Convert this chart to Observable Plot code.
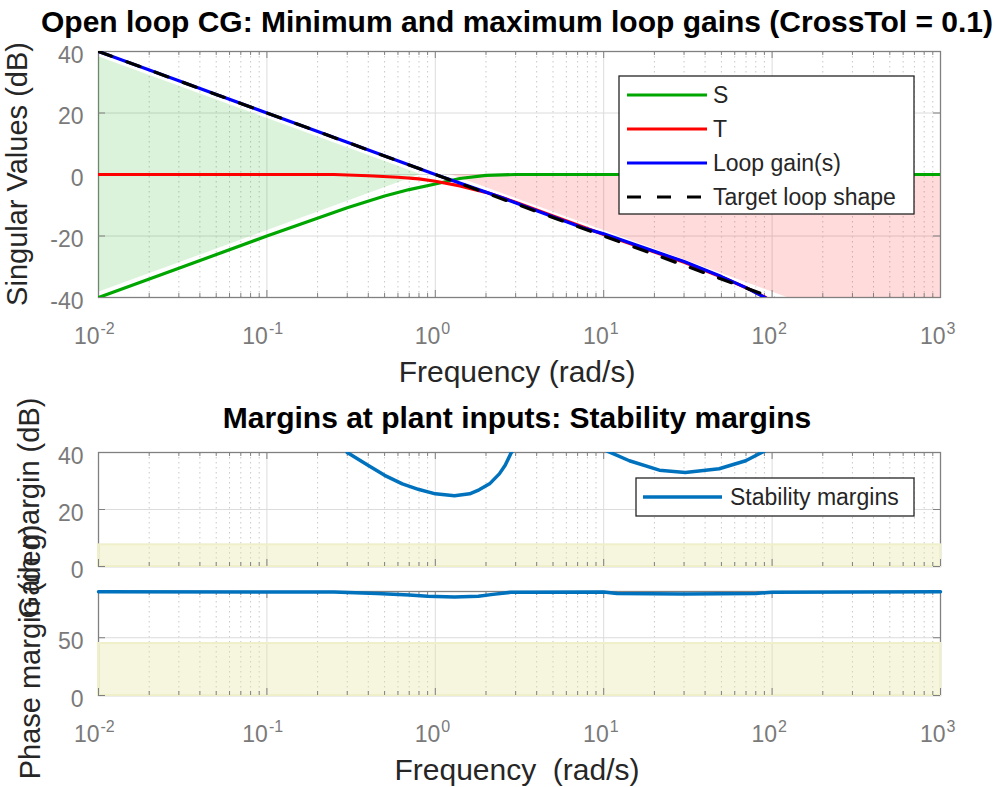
<!DOCTYPE html>
<html><head><meta charset="utf-8">
<script src="https://cdn.jsdelivr.net/npm/d3@7"></script>
<script src="https://cdn.jsdelivr.net/npm/@observablehq/plot@0.6"></script>
<style>
body{margin:0;background:#fff;}
#wrap{position:relative;width:997px;height:787px;overflow:hidden;background:#fff;}
#wrap > svg{position:absolute;left:0;}
</style></head><body><div id="wrap"></div>
<script>
const FONT = '"Liberation Sans", Arial, Helvetica, sans-serif';

// ---------- x ticks ----------
const xTickValues = [0.01, 0.1, 1, 10, 100, 1000];
const xTickExponents = ["-2", "-1", "0", "1", "2", "3"];

// ---------- top panel: singular values (dB) ----------
const svYTicks = [-40, -20, 0, 20, 40];

const sFreq = [0.01, 0.03, 0.1, 0.3, 0.5, 0.7, 1.0, 1.4, 2.0, 3.0, 10, 100, 1000];
const sDb   = [-40, -30.5, -20, -10.8, -7.0, -4.9, -3.1, -1.3, -0.3, 0, 0, 0, 0];

const tFreq = [0.01, 0.1, 0.25, 0.4, 0.6, 0.8, 1.0, 1.4, 2.0, 3.0, 5.0, 10, 20, 30, 50, 70, 90, 100];
const tDb   = [0, 0, 0, -0.4, -0.9, -1.4, -2.2, -3.7, -5.8, -9.0, -13.5, -19.5, -25.2, -28.5, -33.3, -36.8, -39.8, -41.3];

const loopFreq = [0.01, 0.03, 0.1, 0.3, 1.0, 2.5, 4.0, 7.5, 10, 20, 30, 50, 70, 90, 100];
const loopDb   = [40, 30.5, 20, 10.5, 0, -7.6, -11.8, -17.3, -19.3, -25.0, -28.3, -33.2, -36.8, -39.9, -41.5];

const targetFreq = [0.01, 0.1, 1, 10, 100, 120];
const targetDb   = [40, 20, 0, -20, -40, -41.6];

const minGainFreq  = [0.01, 0.82];
const minGainUpper = [38.3, 0];
const minGainLower = [-38.3, 0];

const maxGainFreq  = [1.23, 123, 1000];
const maxGainUpper = [0, 0, 0];
const maxGainLower = [0, -40, -40];

// ---------- gain margin panel (dB) ----------
const gmYTicks = [0, 20, 40];
const gm1Freq = [0.3, 0.405, 0.5, 0.637, 0.8, 1.0, 1.3, 1.6, 1.82, 2.1, 2.4, 2.6, 2.8, 2.9];
const gm1Db   = [40, 35.3, 32, 29.0, 27, 25.5, 24.8, 25.5, 26.9, 29, 32.5, 35.5, 39.5, 41];
const gm2Freq = [10.5, 14.2, 21.4, 30.5, 48.5, 69.7, 90];
const gm2Db   = [40.5, 37.1, 33.8, 33.0, 34.3, 37.1, 40.5];
const gmRequired = [7.6];

// ---------- phase margin panel (deg) ----------
const pmYTicks = [0, 50];
const pmFreq = [0.01, 0.25, 0.45, 0.7, 0.9, 1.3, 1.8, 2.2, 2.8, 10, 12, 30, 80, 100, 1000];
const pmDeg  = [89.7, 89.5, 88.3, 87, 85.8, 85.3, 85.8, 87.5, 89.3, 89.5, 88.3, 87.9, 88.3, 89.4, 89.7];
const pmRequired = [45];

// ---------- build tables ----------
const zip = (xs, ys) => xs.map((f, i) => ({f, v: ys[i]}));
const sData = zip(sFreq, sDb), tData = zip(tFreq, tDb), lData = zip(loopFreq, loopDb), tgData = zip(targetFreq, targetDb);
const greenWedge = minGainFreq.map((f, i) => ({f, lo: minGainLower[i], hi: minGainUpper[i]}));
const redWedge = maxGainFreq.map((f, i) => ({f, lo: maxGainLower[i], hi: maxGainUpper[i]}));
const gm1 = zip(gm1Freq, gm1Db), gm2 = zip(gm2Freq, gm2Db), pm = zip(pmFreq, pmDeg);
const xTicks = xTickValues.map((v, i) => ({v, e: xTickExponents[i]}));

const W = 997, ML = 98, MR = 57;
const axisColor = "#808080", tickColor = "#7a7a7a";
const minors = [];
for (let k = -2; k <= 2; k++) for (let m = 2; m <= 9; m++) minors.push(m * Math.pow(10, k));

function panel({top, height, mt, mb, yDomain, yTicks, under, over, xLabels}) {
  const fw = W - ML - MR, fh = height - mt - mb;
  const marks = [
    Plot.ruleX(minors, {x: d => d, stroke: "#c8c8c8", strokeDasharray: "1.5,3.5", strokeWidth: 1}),
    Plot.ruleX(xTickValues.slice(1, -1), {x: d => d, stroke: "#dcdcdc", strokeWidth: 1}),
    Plot.ruleY(yTicks.filter(v => v > yDomain[0] && v < yDomain[1]), {y: d => d, stroke: "#dcdcdc", strokeWidth: 1}),
    Plot.frame({stroke: axisColor, strokeWidth: 1.3}),
    ...under,
    Plot.ruleX(xTickValues, {x: d => d, insetTop: fh - 7, stroke: axisColor}),
    Plot.ruleX(xTickValues, {x: d => d, insetBottom: fh - 7, stroke: axisColor}),
    Plot.ruleX(minors, {x: d => d, insetTop: fh - 4, stroke: axisColor}),
    Plot.ruleX(minors, {x: d => d, insetBottom: fh - 4, stroke: axisColor}),
    Plot.ruleY(yTicks, {y: d => d, insetRight: fw - 7, stroke: axisColor}),
    Plot.ruleY(yTicks, {y: d => d, insetLeft: fw - 7, stroke: axisColor}),
    Plot.text(yTicks, {y: d => d, text: d => String(d), frameAnchor: "left", textAnchor: "end", dx: -15, dy: 4, fontSize: 23, fill: tickColor}),
    ...over
  ];
  if (xLabels) {
    marks.push(
      Plot.text(xTicks.filter(d => d.v < 1), {x: "v", text: () => "10", frameAnchor: "bottom", textAnchor: "end", lineAnchor: "bottom", dx: 1, dy: 46, fontSize: 23, fill: tickColor}),
      Plot.text(xTicks.filter(d => d.v >= 1), {x: "v", text: () => "10", frameAnchor: "bottom", textAnchor: "end", lineAnchor: "bottom", dx: 5, dy: 46, fontSize: 23, fill: tickColor}),
      Plot.text(xTicks.filter(d => d.v < 1), {x: "v", text: "e", frameAnchor: "bottom", textAnchor: "start", lineAnchor: "bottom", dx: 2, dy: 36, fontSize: 16, fill: tickColor}),
      Plot.text(xTicks.filter(d => d.v >= 1), {x: "v", text: "e", frameAnchor: "bottom", textAnchor: "start", lineAnchor: "bottom", dx: 6, dy: 36, fontSize: 16, fill: tickColor})
    );
  }
  const svg = Plot.plot({
    width: W, height, marginLeft: ML, marginRight: MR, marginTop: mt, marginBottom: mb,
    style: {background: "transparent", overflow: "visible", fontFamily: FONT},
    x: {type: "log", domain: [0.01, 1000], axis: null},
    y: {domain: yDomain, axis: null},
    marks
  });
  svg.style.top = top + "px";
  return svg;
}

const wrap = document.getElementById("wrap");
const lineOpts = {strokeWidth: 3.2, strokeLinejoin: "round", clip: true};

wrap.appendChild(panel({
  top: 0, height: 400, mt: 51, mb: 103, yDomain: [-40, 40], yTicks: svYTicks, xLabels: true,
  under: [
    Plot.areaY(greenWedge, {x: "f", y1: "lo", y2: "hi", fill: "#00aa00", fillOpacity: 0.14}),
    Plot.areaY(redWedge, {x: "f", y1: "lo", y2: "hi", fill: "#ff0000", fillOpacity: 0.14})
  ],
  over: [
    Plot.line(sData, {x: "f", y: "v", stroke: "#00a600", ...lineOpts}),
    Plot.line(tData, {x: "f", y: "v", stroke: "#ff0000", ...lineOpts}),
    Plot.line(lData, {x: "f", y: "v", stroke: "#0000ff", ...lineOpts}),
    Plot.line(tgData, {x: "f", y: "v", stroke: "#000000", strokeDasharray: "14,16", ...lineOpts})
  ]
}));

wrap.appendChild(panel({
  top: 400, height: 180, mt: 52, mb: 14, yDomain: [0, 40], yTicks: gmYTicks, xLabels: false,
  under: [
    Plot.rect(gmRequired, {y1: 0, y2: d => d, fill: "#e6e6a0", fillOpacity: 0.35, stroke: "#efefca", strokeWidth: 2})
  ],
  over: [
    Plot.line(gm1, {x: "f", y: "v", stroke: "#0072BD", strokeWidth: 3.5, clip: true}),
    Plot.line(gm2, {x: "f", y: "v", stroke: "#0072BD", strokeWidth: 3.5, clip: true})
  ]
}));

wrap.appendChild(panel({
  top: 580, height: 207, mt: 11, mb: 92, yDomain: [0, 90], yTicks: pmYTicks, xLabels: true,
  under: [
    Plot.rect(pmRequired, {y1: 0, y2: d => d, fill: "#e6e6a0", fillOpacity: 0.35, stroke: "#efefca", strokeWidth: 2})
  ],
  over: [
    Plot.line(pm, {x: "f", y: "v", stroke: "#0072BD", strokeWidth: 3.5})
  ]
}));

// ---------- overlay: titles, axis labels, legends ----------
const ov = d3.select(wrap).append("svg")
  .attr("width", W).attr("height", 787)
  .style("position", "absolute").style("top", "0px").style("left", "0px")
  .style("font-family", FONT);

function txt(x, y, s, size, opts = {}) {
  const t = ov.append("text").attr("x", x).attr("y", y).text(s)
    .attr("font-size", size).attr("fill", opts.fill || "#262626")
    .attr("text-anchor", opts.anchor || "middle")
    .style("white-space", "pre");
  if (opts.bold) t.attr("font-weight", "bold");
  if (opts.rotate) t.attr("transform", `rotate(-90 ${x} ${y})`);
  return t;
}
txt(517, 32, "Open loop CG: Minimum and maximum loop gains (CrossTol = 0.1)", 30, {bold: true, fill: "#000"});
txt(517, 382, "Frequency (rad/s)", 30);
txt(27, 174, "Singular Values (dB)", 29, {rotate: true});
txt(517, 428, "Margins at plant inputs: Stability margins", 30, {bold: true, fill: "#000"});
txt(39, 508, "Gain margin (dB)", 29, {rotate: true});
txt(40, 652, "Phase margin (deg)", 29, {rotate: true});
txt(517, 780, "Frequency  (rad/s)", 30);

// legend 1
const leg1Names = ["S", "T", "Loop gain(s)", "Target loop shape"];
const leg1Colors = ["#00a600", "#ff0000", "#0000ff", "#000000"];
const leg1Dash = [null, null, null, "14,16"];
ov.append("rect").attr("x", 619).attr("y", 76).attr("width", 295).attr("height", 138)
  .attr("fill", "#fff").attr("stroke", "#262626").attr("stroke-width", 1.3);
leg1Names.forEach((n, i) => {
  const y = 95 + i * 34;
  const l = ov.append("line").attr("x1", 627).attr("x2", 707).attr("y1", y).attr("y2", y)
    .attr("stroke", leg1Colors[i]).attr("stroke-width", 3.2);
  if (leg1Dash[i]) l.attr("stroke-dasharray", leg1Dash[i]);
  txt(713, y + 8, n, 23, {anchor: "start"});
});
// legend 2
ov.append("rect").attr("x", 636).attr("y", 478).attr("width", 278).attr("height", 38)
  .attr("fill", "#fff").attr("stroke", "#262626").attr("stroke-width", 1.3);
ov.append("line").attr("x1", 643).attr("x2", 722).attr("y1", 497).attr("y2", 497)
  .attr("stroke", "#0072BD").attr("stroke-width", 3.5);
txt(730, 505, "Stability margins", 23, {anchor: "start"});
</script></body></html>
